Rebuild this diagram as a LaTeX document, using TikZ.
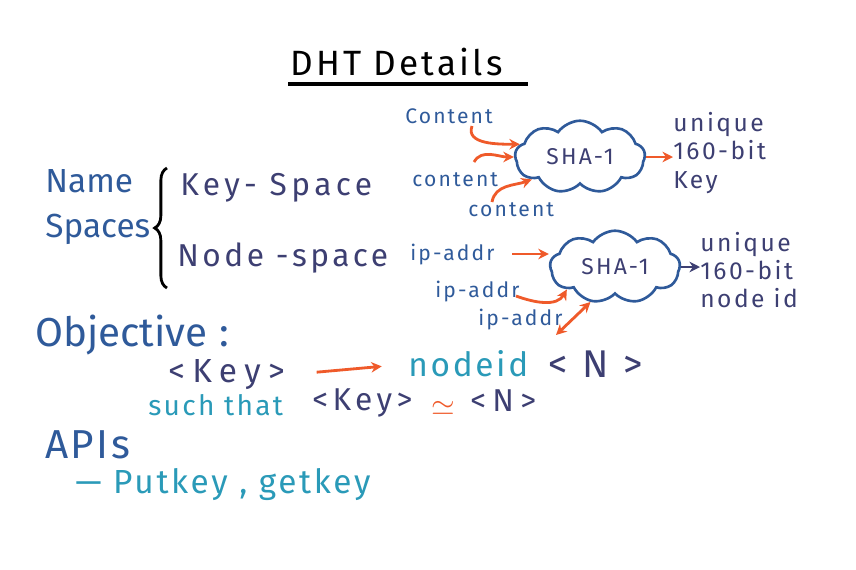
\documentclass[tikz,border=0pt]{standalone}
\usepackage{fontspec}
\setmainfont{Fira Sans}
\usetikzlibrary{arrows.meta,shapes.symbols,decorations.pathreplacing,positioning}
\definecolor{inkNavy}{HTML}{3D3F72}
\definecolor{inkBlue}{HTML}{2F5A9A}
\definecolor{inkTeal}{HTML}{2A9AB8}
\definecolor{inkOrange}{HTML}{EF5A2A}
\tikzset{
  hand/.style={inner sep=0pt,anchor=west},
  headline/.style={hand,text=inkBlue,font=\fontsize{24}{28}\selectfont},
  spacename/.style={hand,text=inkNavy,font=\fontsize{18}{22}\selectfont\addfontfeature{LetterSpace=14}},
  feedtext/.style={hand,text=inkBlue,font=\fontsize{12}{14}\selectfont\addfontfeature{LetterSpace=10}},
  resulttext/.style={hand,text=inkNavy,align=left,font=\fontsize{14}{16}\selectfont\addfontfeature{LetterSpace=10}},
  hashbox/.style={cloud,cloud puffs=9,cloud puff arc=110,aspect=2,draw=inkBlue,line width=1.5pt,
    minimum width=2.6cm,minimum height=1.4cm,text=inkNavy,font=\fontsize{13}{15}\selectfont\addfontfeature{LetterSpace=10}},
  feed/.style={-{Stealth[length=6pt,width=6pt]},inkOrange,line width=1.6pt},
}

\begin{document}
\begin{tikzpicture}[x=0.02cm,y=-0.02cm]
  \useasboundingbox (0,0) rectangle (856,569);
  % title
  \node[hand,font=\fontsize{20}{24}\selectfont\addfontfeature{LetterSpace=9}] (title) at (290,62) {DHT Details};
  \coordinate (ulA) at (288,84);
  \coordinate (ulB) at (528,84);
  \draw[line width=1.8pt] (ulA) -- (ulB);

  % name spaces
  \node[headline,font=\fontsize{19}{26}\selectfont,align=left] (names) at (45,207) {Name\\Spaces};
  \coordinate (brTop) at (167,168);
  \coordinate (brBot) at (167,288);
  \draw[line width=1.6pt,decorate,decoration={brace,amplitude=7pt,aspect=0.5}] (brBot) -- (brTop);
  \node[spacename] (keyspace) at (180,188) {Key- Space};
  \node[spacename,font=\fontsize{18}{22}\selectfont\addfontfeature{LetterSpace=11}] (nodespace) at (177,258) {Node -space};

  % key hashing
  \node[hashbox] (hashkey) at (580,157) {SHA-1};
  \node[feedtext] (cont1) at (405,116) {Content};
  \node[feedtext] (cont2) at (412,180) {content};
  \node[feedtext] (cont3) at (468,210) {content};
  \coordinate (c1) at (472,126);
  \coordinate (c2) at (474,162);
  \coordinate (c3) at (492,202);
  \draw[feed] (c1) to[out=-110,in=180] (hashkey.168);
  \draw[feed] (c2) to[out=60,in=180] (hashkey.180);
  \draw[feed] (c3) to[out=80,in=200] (hashkey.205);
  \node[resulttext] (keyout) at (673,153) {unique\\160-bit\\Key};
  \draw[feed] (hashkey.east) -- (keyout.west |- hashkey.east);

  % node hashing
  \node[hashbox] (hashnode) at (615,267) {SHA-1};
  \node[feedtext] (ip1) at (410,255) {ip-addr};
  \node[feedtext] (ip2) at (435,292) {ip-addr};
  \node[feedtext] (ip3) at (478,320) {ip-addr};
  \coordinate (i1) at (512,254);
  \coordinate (i2) at (516,296);
  \coordinate (i3) at (556,335);
  \draw[feed] (i1) -- (hashnode.west |- i1);
  \draw[feed] (i2) to[out=-20,in=-120] (hashnode.205);
  \draw[feed,{Stealth[length=6pt,width=6pt]}-{Stealth[length=6pt,width=6pt]}] (i3) -- (hashnode.235);
  \node[resulttext] (nodeout) at (700,270) {unique\\160-bit\\node id};
  \draw[-{Stealth[length=6pt,width=6pt]},inkNavy,line width=1.6pt] (hashnode.east) -- (nodeout.west |- hashnode.east);

  % objective
  \node[headline,font=\fontsize{23}{28}\selectfont] (objective) at (35,335) {Objective\hspace{7pt}:};
  \node[spacename,font=\fontsize{19}{22}\selectfont\addfontfeature{LetterSpace=22}] (keyA) at (168,375) {<Key>};
  \node[hand,text=inkTeal,font=\fontsize{19}{22}\selectfont\addfontfeature{LetterSpace=8}] (nodeid) at (408,364) {nodeid};
  \node[spacename,font=\fontsize{22}{24}\selectfont\addfontfeature{LetterSpace=38}] (nA) at (548,364) {<N>};
  \draw[feed,shorten <=18pt,shorten >=15pt] (keyA.east) -- (nodeid.west);
  \node[hand,text=inkTeal,font=\fontsize{16}{20}\selectfont\addfontfeature{LetterSpace=8}] (such) at (148,405) {such that};
  \node[spacename] (keyB) at (312,403) {<Key>};
  \node[hand,text=inkOrange,font=\fontsize{17}{20}\selectfont] (approx) at (431,408) {$\simeq$};
  \node[spacename,font=\fontsize{18}{22}\selectfont\addfontfeature{LetterSpace=20}] (nB) at (470,401) {<N>};

  % apis
  \node[headline,font=\fontsize{23}{26}\selectfont\addfontfeature{LetterSpace=6}] (apis) at (45,445) {APIs};
  \node[hand,text=inkTeal,font=\fontsize{19}{24}\selectfont\addfontfeature{LetterSpace=8}] (calls) at (75,485) {— Putkey , getkey};
\end{tikzpicture}
\end{document}
